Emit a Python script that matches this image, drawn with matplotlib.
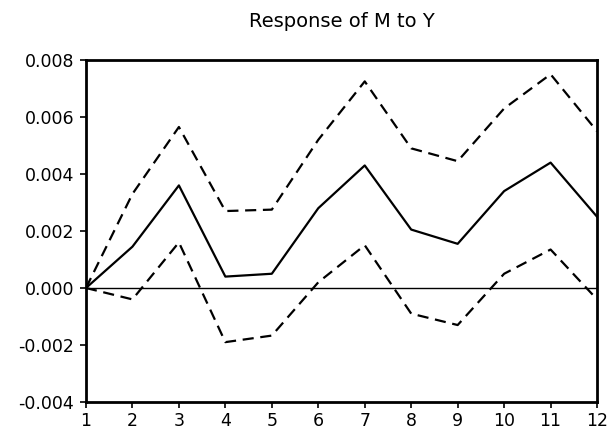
import matplotlib.pyplot as plt
import numpy as np

# периоды и отклики
periods = np.arange(1, 13)
response = [0.0, 0.00145, 0.0036, 0.0004, 0.0005, 0.0028, 0.0043, 0.00205, 0.00155, 0.0034, 0.0044, 0.0025]
upper = [0.0, 0.0033, 0.00565, 0.0027, 0.00275, 0.0052, 0.00725, 0.0049, 0.00445, 0.0063, 0.0075, 0.0055]
lower = [0.0, -0.0004, 0.0016, -0.0019, -0.00167, 0.0002, 0.0015, -0.0009, -0.0013, 0.0005, 0.00135, -0.0004]
yticks = [-0.004, -0.002, 0.0, 0.002, 0.004, 0.006, 0.008]

plt.rcParams['font.family'] = ['DejaVu Sans']

fig = plt.figure(figsize=(6.08, 4.4), dpi=100)
ax = fig.add_axes([0.1414, 0.0864, 0.8406, 0.7772])

ax.plot(periods, response, color='black', linewidth=1.6)
ax.plot(periods, upper, color='black', linewidth=1.6, linestyle=(0, (5, 3)))
ax.plot(periods, lower, color='black', linewidth=1.6, linestyle=(0, (5, 3)))
ax.axhline(0, color='black', linewidth=1.0)

ax.set_xlim(1, 12)
ax.set_ylim(-0.004, 0.008)
ax.set_xticks(periods)
ax.set_yticks(yticks)
ax.set_yticklabels(['%.3f' % v for v in yticks])
ax.tick_params(direction='out', length=4.5, width=1.2, labelsize=12.5)
ax.tick_params(axis='x', pad=2.5)
ax.tick_params(axis='y', pad=4)
for s in ax.spines.values():
    s.set_linewidth(2)

fig.text(0.5617, 0.951, 'Response of M to Y', ha='center', va='center', fontsize=14)

plt.savefig('out.png', dpi=100)
